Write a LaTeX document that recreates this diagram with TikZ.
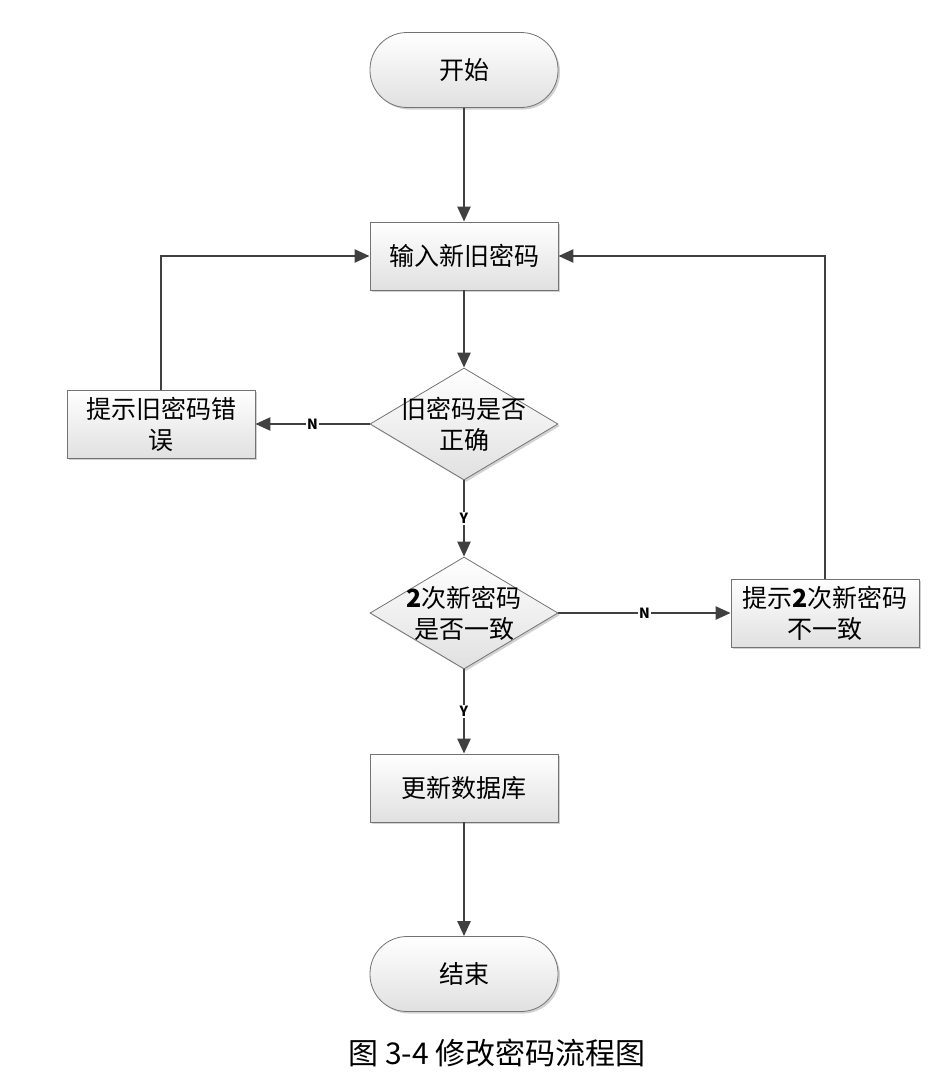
\documentclass[tikz,border=0pt]{standalone}
\usepackage{fontspec}
\setmainfont{Noto Sans CJK SC}
\usetikzlibrary{shapes.geometric,shadows,arrows.meta}
\begin{document}
\begin{tikzpicture}[x=1pt,y=-1pt,
  base/.style={draw=black!55,line width=0.8pt,top color=white,bottom color=black!12,
    drop shadow={shadow xshift=2pt,shadow yshift=-2pt,fill=black!35},
    font=\fontsize{25}{31}\selectfont,align=center,inner sep=2pt},
  box/.style={base,rectangle,minimum width=188pt,minimum height=68pt,text width=184pt},
  term/.style={base,rounded corners=37pt,minimum width=188pt,minimum height=75pt},
  dia/.style={base,diamond,minimum width=188pt,minimum height=112pt,aspect=1.68,inner sep=-6pt},
  arr/.style={draw=black!75,line width=2.4pt,-{Triangle[length=15pt,width=13pt]}},
  lab/.style={font=\bfseries\fontsize{14}{16}\selectfont,fill=white,inner sep=1pt}]
\useasboundingbox (0,0) rectangle (935,1092);
\node[term] (s) at (464,70) {开始};
\node[box] (in) at (464,256) {输入新旧密码};
\node[dia] (d1) at (464,424) {旧密码是否\\正确};
\node[box] (l) at (161,424) {提示旧密码错\\误};
\node[dia] (d2) at (464,613) {\textbf{2}次新密码\\是否一致};
\node[box] (r) at (825,613) {提示\textbf{2}次新密码\\不一致};
\node[box] (u) at (464,788) {更新数据库};
\node[term] (e) at (464,974) {结束};
\draw[arr] (s) -- (in);
\draw[arr] (in) -- (d1);
\draw[arr] (d1) -- node[lab]{N} (l);
\draw[arr] (d1) -- node[lab]{Y} (d2);
\draw[arr] (d2) -- node[lab]{N} (r);
\draw[arr] (d2) -- node[lab]{Y} (u);
\draw[arr] (u) -- (e);
\draw[arr] (l.north) -- (l.north |- in.west) -- (in.west);
\draw[arr] (r.north) -- (r.north |- in.east) -- (in.east);
\node[font=\fontsize{30}{34}\selectfont] (cap) at (497,1053) {图 3-4 修改密码流程图};
\end{tikzpicture}
\end{document}
